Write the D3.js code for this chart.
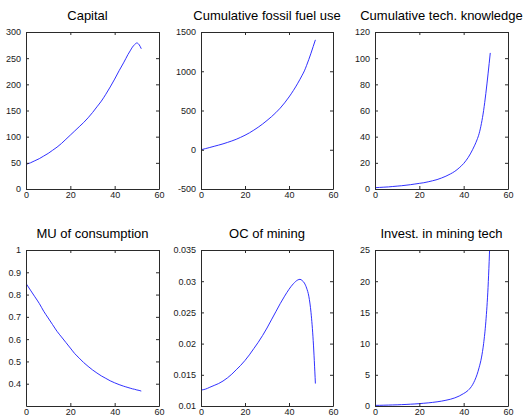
<!DOCTYPE html>
<html>
<head>
<meta charset="utf-8">
<script src="https://cdn.jsdelivr.net/npm/d3@7"></script>
<style>
  body { margin: 0; background: #fff; }
  svg { display: block; }
</style>
</head>
<body>
<div id="chart"></div>
<script>
// time axis (years), finer steps near the end
const tYears = [0, 2, 4, 6, 8, 10, 12, 14, 16, 18, 20, 22, 24, 26, 28, 30, 32, 34, 36, 38, 40, 42, 44,
                45, 46, 47, 48, 49, 50, 51, 52];

const capital = [47, 50, 54, 58, 63, 68, 74, 80, 87, 95, 103, 111, 119, 127, 136, 146, 157, 168, 181, 195, 210, 226, 241,
                 249, 257, 264, 271, 276, 279, 276, 268];
const fossilUse = [0, 14, 29, 44, 59, 75, 93, 112, 133, 158, 185, 215, 250, 287, 328, 373, 420, 472, 530, 597, 672, 755, 848,
                   898, 950, 1005, 1075, 1150, 1230, 1315, 1400];
const techKnowledge = [1, 1.2, 1.4, 1.6, 1.9, 2.2, 2.5, 2.9, 3.3, 3.8, 4.3, 4.8, 5.5, 6.3, 7.2, 8.4, 9.8, 11.5, 13.5, 16.2, 19.5, 24, 30,
                       33.5, 37.5, 42.5, 50, 60, 73, 88, 104];
const muConsumption = [0.85, 0.82, 0.79, 0.76, 0.725, 0.695, 0.665, 0.635, 0.61, 0.585, 0.56, 0.535, 0.515, 0.495, 0.478, 0.462,
                       0.448, 0.435, 0.424, 0.413, 0.404, 0.396, 0.389,
                       0.386, 0.383, 0.38, 0.377, 0.375, 0.372, 0.37, 0.367];
const ocMining = [0.01255, 0.0127, 0.0130, 0.0133, 0.0136, 0.0140, 0.0145, 0.0151, 0.0158, 0.0165, 0.0173, 0.0182, 0.0192,
                  0.0202, 0.0213, 0.0225, 0.0238, 0.0251, 0.0264, 0.0276, 0.0287, 0.0296, 0.0302,
                  0.0303, 0.0301, 0.0297, 0.0289, 0.0276, 0.0250, 0.0205, 0.0136];
const investMiningTech = [0.1, 0.11, 0.13, 0.15, 0.17, 0.19, 0.22, 0.25, 0.29, 0.33, 0.38, 0.44, 0.5, 0.58, 0.67, 0.78, 0.92,
                          1.08, 1.3, 1.6, 2.0, 2.5, 3.4,
                          4.1, 5.0, 6.2, 7.7, 10, 13.5, 19, 28];

const titles = ['Capital', 'Cumulative fossil fuel use', 'Cumulative tech. knowledge',
                'MU of consumption', 'OC of mining', 'Invest. in mining tech'];
const xTicks = [0, 20, 40, 60];
const yDomains = [[0, 300], [-500, 1500], [0, 120], [0.3, 1], [0.01, 0.035], [0, 25]];
const yTicks = [
  [0, 50, 100, 150, 200, 250, 300],
  [-500, 0, 500, 1000, 1500],
  [0, 20, 40, 60, 80, 100, 120],
  [0.4, 0.5, 0.6, 0.7, 0.8, 0.9, 1],
  [0.01, 0.015, 0.02, 0.025, 0.03, 0.035],
  [0, 5, 10, 15, 20, 25]
];
const series = [capital, fossilUse, techKnowledge, muConsumption, ocMining, investMiningTech];

// layout
const W = 526, H = 419;
const cols = [[26, 159], [201, 333], [375, 508]];
const rows = [[32, 189], [250, 406]];
const titleShift = [-5, 0, 0, 0, 0, 0];

const svg = d3.select('#chart').append('svg')
  .attr('width', W)
  .attr('height', H);

series.forEach((values, i) => {
  const [x0, x1] = cols[i % 3];
  const [y0, y1] = rows[Math.floor(i / 3)];

  const x = d3.scaleLinear().domain([0, 60]).range([x0, x1]);
  const y = d3.scaleLinear().domain(yDomains[i]).range([y1, y0]);

  const g = svg.append('g');

  g.append('clipPath').attr('id', 'clip' + i)
    .append('rect')
    .attr('x', x0).attr('y', y0)
    .attr('width', x1 - x0).attr('height', y1 - y0);

  const line = d3.line()
    .x((d, k) => x(tYears[k]))
    .y(d => y(d))
    .curve(d3.curveMonotoneX);

  g.append('path')
    .datum(values)
    .attr('clip-path', `url(#clip${i})`)
    .attr('fill', 'none')
    .attr('stroke', '#1a1aff')
    .attr('stroke-width', 0.9)
    .attr('d', line);

  const fmt = d => String(d);

  // bottom & left axes with labels, inward ticks (matlab style)
  g.append('g')
    .attr('transform', `translate(0,${y1})`)
    .call(d3.axisBottom(x).tickValues(xTicks).tickSizeInner(-3).tickSizeOuter(0).tickPadding(3).tickFormat(fmt));

  g.append('g')
    .attr('transform', `translate(${x0},0)`)
    .call(d3.axisLeft(y).tickValues(yTicks[i]).tickSizeInner(-3).tickSizeOuter(0).tickPadding(5).tickFormat(fmt));

  // top & right just close the box
  g.append('g')
    .attr('transform', `translate(0,${y0})`)
    .call(d3.axisTop(x).tickValues(xTicks).tickSizeInner(-3).tickSizeOuter(0).tickFormat(''));

  g.append('g')
    .attr('transform', `translate(${x1},0)`)
    .call(d3.axisRight(y).tickValues(yTicks[i]).tickSizeInner(-3).tickSizeOuter(0).tickFormat(''));

  g.selectAll('.domain').attr('stroke', '#2a2a2a');
  g.selectAll('.tick line').attr('stroke', '#2a2a2a');
  g.selectAll('.tick text')
    .attr('fill', '#1a1a1a')
    .style('font-family', '"Liberation Sans", Arial, sans-serif')
    .style('font-size', '9px');

  g.append('text')
    .attr('x', (x0 + x1) / 2 + titleShift[i])
    .attr('y', y0 - 12)
    .attr('text-anchor', 'middle')
    .style('font-family', '"Liberation Sans", Arial, sans-serif')
    .style('font-size', '13px')
    .style('fill', '#000')
    .text(titles[i]);
});
</script>
</body>
</html>
